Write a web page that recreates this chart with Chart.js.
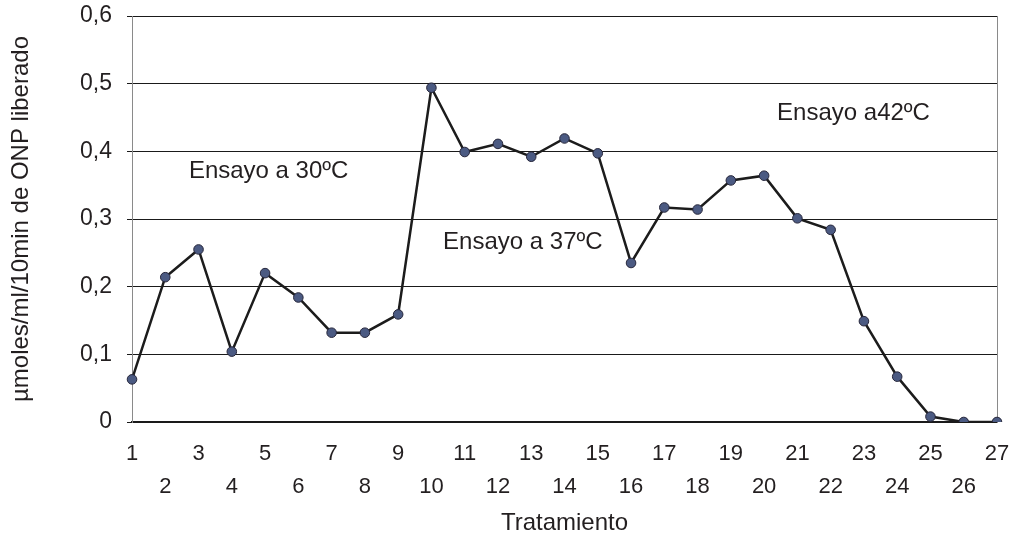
<!DOCTYPE html>
<html>
<head>
<meta charset="utf-8">
<script src="https://cdn.jsdelivr.net/npm/chart.js@4/dist/chart.umd.min.js"></script>
<style>
  html, body { margin: 0; padding: 0; background: #fff; }
  #wrap { width: 1015px; height: 539px; position: relative; }
</style>
</head>
<body>
<div id="wrap"><canvas id="c" width="1015" height="539"></canvas></div>
<script>
const categories = ['1','2','3','4','5','6','7','8','9','10','11','12','13','14','15','16','17','18','19','20','21','22','23','24','25','26','27'];
const values = [0.063, 0.214, 0.255, 0.104, 0.220, 0.184, 0.132, 0.132, 0.159, 0.494, 0.399, 0.411, 0.392, 0.419, 0.397, 0.235, 0.317, 0.314, 0.357, 0.364, 0.301, 0.284, 0.149, 0.067, 0.008, 0, 0];
const yTicks = [0, 0.1, 0.2, 0.3, 0.4, 0.5, 0.6];
const yTickLabels = ['0', '0,1', '0,2', '0,3', '0,4', '0,5', '0,6'];
const annotationTexts = ['Ensayo a 30ºC', 'Ensayo a 37ºC', 'Ensayo a42ºC'];
const annotationX = [1.71, 9.35, 19.39];
const annotationY = [0.371, 0.266, 0.4565];

const FONT = '"Liberation Sans", Arial, Helvetica, sans-serif';

const annotPlugin = {
  id: 'annot',
  afterDatasetsDraw(chart) {
    const ctx = chart.ctx;
    const xs = chart.scales.x, ys = chart.scales.y;
    ctx.save();
    ctx.font = '24px ' + FONT;
    ctx.fillStyle = '#231f20';
    ctx.textAlign = 'left';
    ctx.textBaseline = 'middle';
    annotationTexts.forEach((t, i) => {
      ctx.fillText(t, xs.getPixelForValue(annotationX[i]), ys.getPixelForValue(annotationY[i]));
    });
    ctx.restore();
  }
};

new Chart(document.getElementById('c'), {
  type: 'line',
  data: {
    labels: categories,
    datasets: [{
      data: values,
      borderColor: '#1c1c1c',
      borderWidth: 2.5,
      pointRadius: 4.8,
      pointBackgroundColor: '#4b5a82',
      pointBorderColor: '#26263a',
      pointBorderWidth: 1,
      tension: 0,
      fill: false
    }]
  },
  options: {
    responsive: false,
    animation: false,
    events: [],
    layout: { padding: { left: 0, right: 18, top: 16, bottom: 0 } },
    plugins: { legend: { display: false }, tooltip: { enabled: false } },
    scales: {
      x: {
        type: 'category',
        offset: false,
        afterFit(s) { s.height = 117; s.paddingLeft = 0; s.paddingRight = 0; },
        border: { display: true, color: '#1a1a1a', width: 1.5 },
        grid: {
          drawTicks: false,
          color: (c) => c.index === categories.length - 1 ? '#8a8a8a' : 'rgba(0,0,0,0)',
          lineWidth: 1
        },
        ticks: {
          autoSkip: false,
          maxRotation: 0,
          minRotation: 0,
          padding: 16,
          color: '#231f20',
          font: { family: FONT, size: 22, lineHeight: 1.47 },
          callback: (v, i) => (i % 2 === 0 ? [categories[i], ''] : ['', categories[i]])
        },
        title: {
          display: true,
          text: 'Tratamiento',
          color: '#231f20',
          font: { family: FONT, size: 24 },
          padding: { top: 0, bottom: 1 }
        }
      },
      y: {
        min: 0,
        max: 0.6,
        afterFit(s) { s.width = 132; s.paddingTop = 0; s.paddingBottom = 0; },
        afterBuildTicks(s) { s.ticks = yTicks.map(v => ({ value: v })); },
        border: { display: true, color: '#8a8a8a', width: 1 },
        grid: { color: '#1a1a1a', lineWidth: 1, drawTicks: true, tickLength: 5, tickColor: '#1a1a1a' },
        ticks: {
          padding: 15,
          color: '#231f20',
          font: { family: FONT, size: 23 },
          callback: (v) => yTickLabels[yTicks.findIndex(t => Math.abs(t - v) < 1e-9)]
        },
        title: {
          display: true,
          text: 'µmoles/ml/10min de ONP liberado',
          color: '#231f20',
          font: { family: FONT, size: 24 },
          padding: { top: 7, bottom: 0 }
        }
      }
    }
  },
  plugins: [annotPlugin]
});
</script>
</body>
</html>
